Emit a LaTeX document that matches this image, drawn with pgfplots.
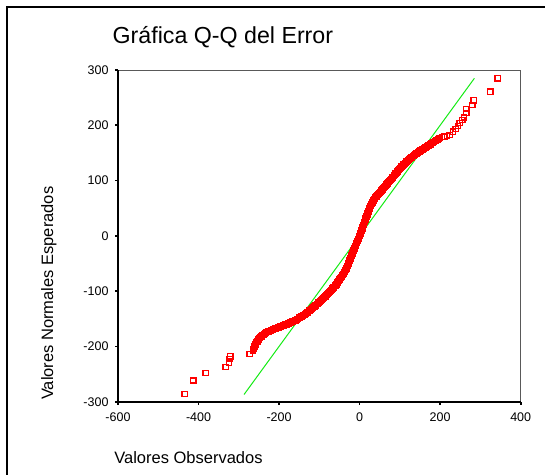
\documentclass[border=0pt]{standalone}
\usepackage{fontspec}
\setmainfont{Liberation Sans}
\usepackage{pgfplots}
\pgfplotsset{compat=1.18}
\definecolor{qqgreen}{RGB}{20,235,20}
\definecolor{qqred}{RGB}{255,0,0}
\begin{document}
\begin{tikzpicture}[x=1pt,y=1pt]
\useasboundingbox (0,0) rectangle (545,474);
\draw[black, line width=2pt] (7,-2) -- (7,467) -- (547,467);
\begin{axis}[
  at={(118pt,72.3pt)}, anchor=south west,
  scale only axis, width=402.7pt, height=331.7pt,
  xmin=-600, xmax=400, ymin=-300, ymax=300,
  xtick={-600,-400,-200,0,200,400},
  ytick={-300,-200,-100,0,100,200,300},
  xtick pos=bottom, ytick pos=left, tick align=outside,
  major tick length=3pt,
  tick style={black, line width=1.6pt},
  axis line style={draw=black!65, line width=1pt},
  tick label style={font=\fontsize{12.5}{14}\selectfont, text=black},
  xticklabel style={yshift=-5pt},
  yticklabel style={xshift=-3pt},
  /pgf/number format/assume math mode=true,
  title={Gráfica Q-Q del Error},
  title style={at={(axis description cs:-0.022,1.063)}, anchor=base west, font=\fontsize{23.2}{27}\selectfont},
  xlabel={Valores Observados},
  xlabel style={at={(axis description cs:0.175,-0.17)}, anchor=center, font=\fontsize{16.5}{20}\selectfont},
  ylabel={Valores Normales Esperados},
  ylabel style={at={(axis description cs:-0.172,0.327)}, anchor=center, font=\fontsize{16.5}{20}\selectfont},
  clip=false,
]
\addplot[qqgreen, line width=1pt, no marks] coordinates {(-287,-287) (285,285)};
\addplot[only marks, mark=square, mark size=2.6pt, mark options={qqred, line width=1.3pt}] coordinates {
(-434.6,-285.8) (-413,-261.7) (-382.4,-248.4) (-332.8,-237) (-324.5,-230.4) (-322.8,-223.2) (-321,-218) (-273,-214)
(-265,-207) (-262.3,-202.7) (-259.7,-198.3)
(-257,-194) (-254,-190.7) (-251,-187.3)
(-248,-184) (-244,-181.8) (-240,-179.5) (-236,-177.3)
(-232,-175) (-227,-173.4) (-222,-171.8) (-217,-170.2) (-212,-168.6)
(-207,-167) (-202,-165.6) (-197,-164.2) (-192,-162.8) (-187,-161.4)
(-182,-160) (-177,-158.4) (-172,-156.8) (-167,-155.2) (-162,-153.6)
(-157,-152) (-152.8,-150) (-148.7,-148) (-144.5,-146) (-140.3,-144) (-136.2,-142)
(-132,-140) (-128,-137.5) (-124,-135) (-120,-132.5) (-116,-130) (-112,-127.5)
(-108,-125) (-103.8,-122.2) (-99.7,-119.3) (-95.5,-116.5) (-91.3,-113.7) (-87.2,-110.8)
(-83,-108) (-79.4,-105.1) (-75.9,-102.3) (-72.3,-99.4) (-68.7,-96.6) (-65.1,-93.7) (-61.6,-90.9)
(-58,-88) (-54.8,-84.5) (-51.5,-81) (-48.3,-77.5)
(-45,-74) (-42,-70.5) (-39,-67) (-36,-63.5)
(-33,-60) (-31,-56.3) (-29,-52.5) (-27,-48.8) (-25,-45) (-23,-41.3) (-21,-37.5) (-19,-33.8)
(-17,-30) (-14.9,-26.3) (-12.8,-22.5) (-10.6,-18.8) (-8.5,-15) (-6.4,-11.3) (-4.3,-7.5) (-2.1,-3.8)
(0,0) (1.9,3.9) (3.8,7.8) (5.7,11.7) (7.6,15.6) (9.4,19.4) (11.3,23.3) (13.2,27.2) (15.1,31.1)
(17,35) (19,38.8) (21,42.6) (23,46.4) (25,50.2)
(27,54) (29.6,57.2) (32.2,60.4) (34.8,63.6) (37.4,66.8)
(40,70) (43.6,73) (47.2,76) (50.8,79) (54.4,82)
(58,85) (61.7,88.2) (65.3,91.3) (69,94.5) (72.7,97.7) (76.3,100.8)
(80,104) (83.2,106.8) (86.3,109.7) (89.5,112.5) (92.7,115.3) (95.8,118.2)
(99,121) (102.5,123.7) (106,126.3) (109.5,129) (113,131.7) (116.5,134.3)
(120,137) (124.2,139.4) (128.4,141.8) (132.6,144.2) (136.8,146.6)
(141,149) (145.2,151) (149.3,153) (153.5,155) (157.7,157) (161.8,159)
(166,161) (170.7,163.3) (175.4,165.6) (180.1,167.9) (184.9,170.1) (189.6,172.4) (194.3,174.7)
(199,177) (205,178.5) (211,179.6) (217,181) (223.5,182.6) (231.8,188.6) (238.4,193) (244.2,199) (248.3,203.8)
(255,209.8) (259,214) (265,222) (265,229.7) (280,237) (283,245) (324.5,261) (343,285)
};
\addplot[only marks, mark=square, mark size=2.6pt, mark options={qqred, line width=1.3pt}] coordinates {
(-263.6,-204.8) (-261,-200.5) (-258.3,-196.1) (-255.5,-192.3) (-252.5,-189) (-249.5,-185.6) (-246,-182.9) (-242,-180.6) (-238,-178.4) (-234,-176.1)
(-229.5,-174.2) (-224.5,-172.6) (-219.5,-171) (-214.5,-169.4) (-209.5,-167.8) (-204.5,-166.3) (-199.5,-164.9) (-194.5,-163.5) (-189.5,-162.1) (-184.5,-160.7)
(-179.5,-159.2) (-174.5,-157.6) (-169.5,-156) (-164.5,-154.4) (-159.5,-152.8) (-154.9,-151) (-150.7,-149) (-146.6,-147) (-142.4,-145) (-138.2,-143)
(-134.1,-141) (-130,-138.8) (-126,-136.3) (-122,-133.8) (-118,-131.3) (-114,-128.8) (-110,-126.3) (-105.9,-123.6) (-101.7,-120.8) (-97.6,-117.9)
(-93.4,-115.1) (-89.2,-112.3) (-85.1,-109.4) (-81.2,-106.6) (-77.7,-103.7) (-74.1,-100.9) (-70.5,-98) (-66.9,-95.2) (-63.4,-92.3) (-59.8,-89.5)
(-56.4,-86.3) (-53.2,-82.8) (-49.9,-79.3) (-46.7,-75.8) (-43.5,-72.3) (-40.5,-68.8) (-37.5,-65.3) (-34.5,-61.8) (-32,-58.2) (-30,-54.4)
(-28,-50.7) (-26,-46.9) (-24,-43.2) (-22,-39.4) (-20,-35.7) (-18,-31.9) (-16,-28.2) (-13.9,-24.4) (-11.7,-20.7) (-9.6,-16.9)
(-7.5,-13.2) (-5.4,-9.4) (-3.2,-5.7) (-1.1,-1.9) (1,2) (2.9,5.9) (4.8,9.8) (6.7,13.7) (8.5,17.5) (10.4,21.4)
(12.3,25.3) (14.2,29.2) (16.1,33.1) (18,36.9) (20,40.7) (22,44.5) (24,48.3) (26,52.1) (28.3,55.6) (30.9,58.8)
(33.5,62) (36.1,65.2) (38.7,68.4) (41.8,71.5) (45.4,74.5) (49,77.5) (52.6,80.5) (56.2,83.5) (59.9,86.6) (63.5,89.8)
(67.2,92.9) (70.9,96.1) (74.5,99.3) (78.2,102.4) (81.6,105.4) (84.8,108.3) (87.9,111.1) (91.1,113.9) (94.3,116.8) (97.4,119.6)
(100.8,122.4) (104.3,125) (107.8,127.7) (111.3,130.4) (114.8,133) (118.3,135.7) (122.1,138.2) (126.3,140.6) (130.5,143) (134.7,145.4)
(138.9,147.8) (143.1,150) (147.3,152) (151.4,154) (155.6,156) (159.8,158) (163.9,160) (168.4,162.2) (173.1,164.5) (177.8,166.8)
(182.5,169) (187.3,171.3) (192,173.6) (196.7,175.9)
};
\draw[black, line width=1.8pt] (rel axis cs:0,1) -- (rel axis cs:0,0) -- (rel axis cs:1,0);
\end{axis}
\end{tikzpicture}
\end{document}
